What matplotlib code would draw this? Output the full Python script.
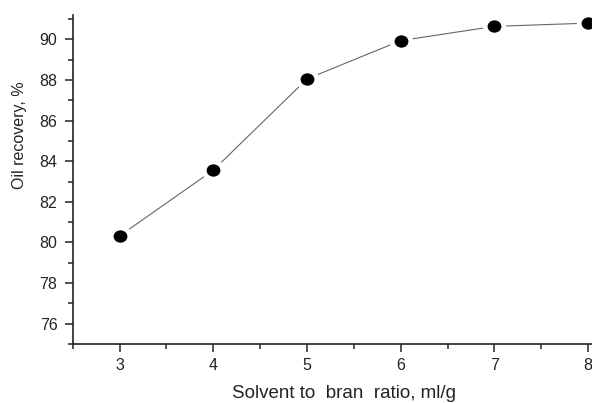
import matplotlib
matplotlib.use("Agg")
import matplotlib.pyplot as plt
from matplotlib.ticker import MultipleLocator
from matplotlib.path import Path
from matplotlib.transforms import Affine2D

plt.rcParams['font.family'] = ['Liberation Sans', 'DejaVu Sans']

ratio = [3, 4, 5, 6, 7, 8]
recovery = [80.32, 83.56, 88.05, 89.94, 90.64, 90.80]
xlabel = "Solvent to  bran  ratio, ml/g"
ylabel = "Oil recovery, %"

W, H = 592, 403
fig = plt.figure(figsize=(W / 100, H / 100), dpi=100)
left, right, top, bottom = 72.7, 635.0, 15.0, 344.0
ax = fig.add_axes([left / W, 1 - bottom / H, (right - left) / W, (bottom - top) / H])

ellipse = Affine2D().scale(1.0, 0.92).transform_path(Path.unit_circle())

ax.plot(ratio, recovery, color='#666666', lw=0.8, marker=ellipse, markersize=13.4,
        markerfacecolor='black', markeredgecolor='white', markeredgewidth=3.4,
        clip_on=False, zorder=3)

ax.set_xlim(2.5, 8.5)
ax.set_ylim(75, 91.2)
ax.xaxis.set_major_locator(MultipleLocator(1))
ax.xaxis.set_minor_locator(MultipleLocator(0.5))
ax.yaxis.set_major_locator(MultipleLocator(2))
ax.yaxis.set_minor_locator(MultipleLocator(1))

for s in ['top', 'right']:
    ax.spines[s].set_visible(False)
for s in ['left', 'bottom']:
    ax.spines[s].set_linewidth(1.2)
    ax.spines[s].set_color('#222222')

ax.tick_params(which='major', direction='out', length=6, width=1.1, labelsize=11.5,
               colors='#222222')
ax.tick_params(axis='y', which='major', pad=5)
ax.tick_params(axis='x', which='major', pad=4)
ax.tick_params(which='minor', direction='out', length=3.5, width=1.1, colors='#222222')

fig.text(344 / W, 1 - 394 / H, xlabel, ha='center', va='center', fontsize=13.5, color='#222222')
fig.text(20 / W, 1 - 135 / H, ylabel, ha='center', va='center', rotation=90, fontsize=11.5, color='#222222')

fig.savefig("out.png", dpi=100)
